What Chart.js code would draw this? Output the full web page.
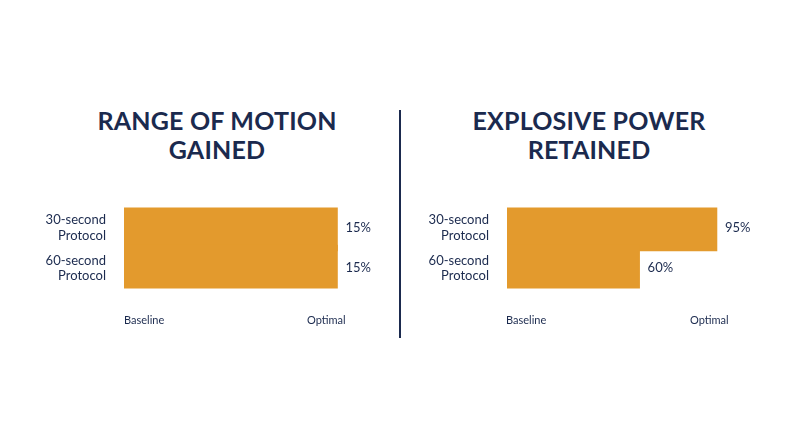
<!DOCTYPE html>
<html><head><meta charset="utf-8">
<script src="https://cdn.jsdelivr.net/npm/chart.js@4/dist/chart.umd.min.js"></script>
<style>
body{margin:0;width:800px;height:447px;background:#fff;position:relative;font-family:Lato,"Open Sans",sans-serif;color:#1b2a4e;overflow:hidden}
.t{position:absolute;top:106px;width:300px;text-align:center;font-size:25px;font-weight:700;line-height:29px;letter-spacing:0.2px}
canvas{position:absolute;top:182px}
.s{position:absolute;top:313px;font-size:11px}
#div{position:absolute;left:399px;top:110px;width:1.5px;height:228px;background:#1b2a4e}
</style></head><body>
<div class="t" style="left:67px">RANGE OF MOTION<br>GAINED</div>
<div class="t" style="left:439px">EXPLOSIVE POWER<br>RETAINED</div>
<div id="div"></div>
<canvas id="c1" width="400" height="132" style="left:0"></canvas>
<canvas id="c2" width="400" height="132" style="left:400px"></canvas>
<div class="s" style="left:124px">Baseline</div>
<div class="s" style="left:307px">Optimal</div>
<div class="s" style="left:506px">Baseline</div>
<div class="s" style="left:690px">Optimal</div>
<script>
let protocols=[['30-second','Protocol'],['60-second','Protocol']];
let romValues=[15,15];
let powerValues=[95,60];

let valueLabels={
  id:'valueLabels',
  afterDatasetsDraw(chart){
    let ctx=chart.ctx;
    ctx.save();
    ctx.fillStyle='#1b2a4e';
    ctx.font='13px Lato, "Open Sans", sans-serif';
    ctx.textBaseline='middle';
    chart.getDatasetMeta(0).data.forEach(function(bar,i){
      ctx.fillText(chart.data.datasets[0].data[i]+'%',bar.x+8,bar.y);
    });
    ctx.restore();
  }
};

function makeChart(id,values,max,yWidth,padRight){
  new Chart(document.getElementById(id),{
    type:'bar',
    data:{labels:protocols,datasets:[{data:values,backgroundColor:'#e39a2d',barThickness:46}]},
    options:{
      indexAxis:'y',responsive:false,animation:false,
      layout:{padding:{right:padRight,top:0,bottom:0,left:0}},
      plugins:{legend:{display:false},tooltip:{enabled:false}},
      scales:{
        x:{min:0,max:max,display:false},
        y:{grid:{display:false},border:{display:false},
          ticks:{color:'#1b2a4e',font:{size:13,family:'Lato, "Open Sans", sans-serif'},padding:10},
          afterFit:function(s){s.width=yWidth;}}
      }
    },
    plugins:[valueLabels]
  });
}
makeChart('c1',romValues,15.6,124,54);
makeChart('c2',powerValues,100,107,72);
</script>
</body></html>
